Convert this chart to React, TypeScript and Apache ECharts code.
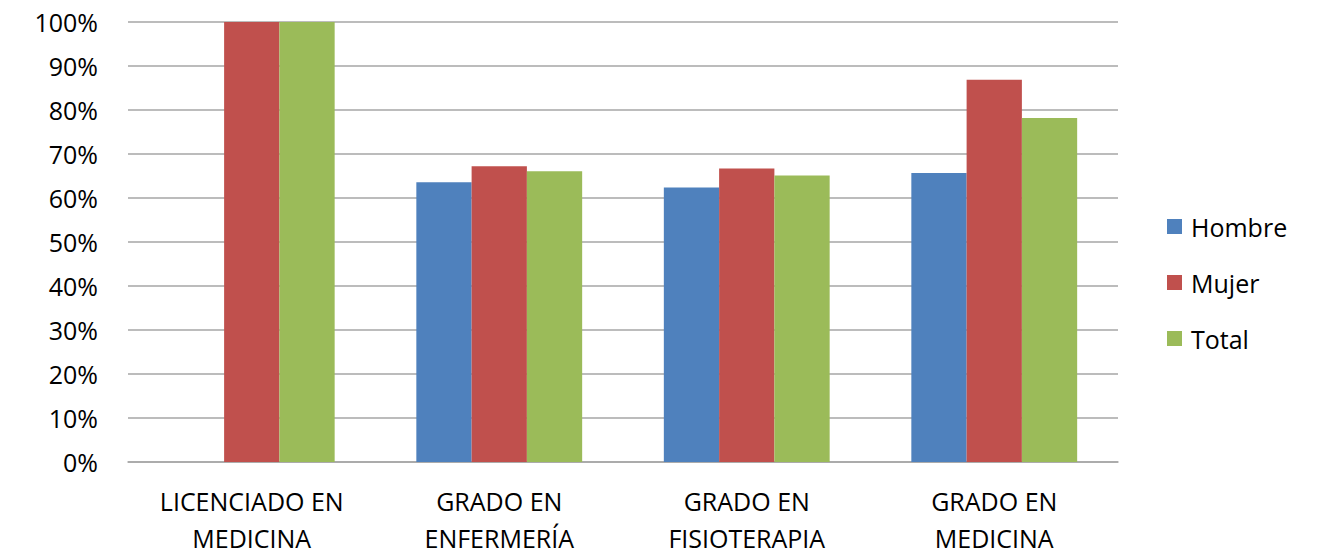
import React, { useEffect, useRef } from "react";
import * as echarts from "echarts";

const categories = ["LICENCIADO EN\nMEDICINA", "GRADO EN\nENFERMERÍA", "GRADO EN\nFISIOTERAPIA", "GRADO EN\nMEDICINA"];
const hombre = [null, 63.6, 62.4, 65.7];
const mujer = [100, 67.2, 66.7, 86.9];
const total = [100, 66.1, 65.1, 78.2];
const yTicks = [0, 10, 20, 30, 40, 50, 60, 70, 80, 90, 100];

const FONT = "'Open Sans', 'Liberation Sans', sans-serif";

export default function App() {
  const ref = useRef<HTMLDivElement>(null);
  useEffect(() => {
    if (!ref.current) return;
    const chart = echarts.init(ref.current, undefined, { renderer: "svg" });
    chart.setOption({
      animation: false,
      backgroundColor: "#ffffff",
      grid: { left: 128, top: 22, right: 206, bottom: 89, containLabel: false },
      legend: {
        orient: "vertical",
        left: 1167,
        top: 214,
        padding: 0,
        itemWidth: 15,
        itemHeight: 15,
        itemGap: 31,
        icon: "rect",
        textStyle: { fontFamily: FONT, fontSize: 25, color: "#000", lineHeight: 25, padding: [0, 0, 0, 4] },
        data: ["Hombre", "Mujer", "Total"],
      },
      xAxis: {
        type: "category",
        data: categories,
        axisLine: { show: true, lineStyle: { color: "#a6a6a6", width: 1.5 } },
        axisTick: { show: false },
        axisLabel: { fontFamily: FONT, fontSize: 25, color: "#000", lineHeight: 37, margin: 20, interval: 0 },
      },
      yAxis: {
        type: "value",
        min: 0,
        max: 100,
        interval: 10,
        axisLine: { show: false },
        axisTick: { show: false },
        splitLine: { show: true, lineStyle: { color: "#a6a6a6", width: 1.5 } },
        axisLabel: {
          fontFamily: FONT,
          fontSize: 25,
          color: "#000",
          margin: 30,
          formatter: (v: number) => (yTicks.includes(v) ? v + "%" : ""),
        },
      },
      series: [
        { name: "Hombre", type: "bar", data: hombre, itemStyle: { color: "#4F81BD" }, barGap: "0%", barCategoryGap: "33%" },
        { name: "Mujer", type: "bar", data: mujer, itemStyle: { color: "#C0504D" }, barGap: "0%", barCategoryGap: "33%" },
        { name: "Total", type: "bar", data: total, itemStyle: { color: "#9BBB59" }, barGap: "0%", barCategoryGap: "33%" },
      ],
    });
    return () => chart.dispose();
  }, []);
  return <div ref={ref} style={{ position: "fixed", left: 0, top: 0, width: 1324, height: 556 }} />;
}
